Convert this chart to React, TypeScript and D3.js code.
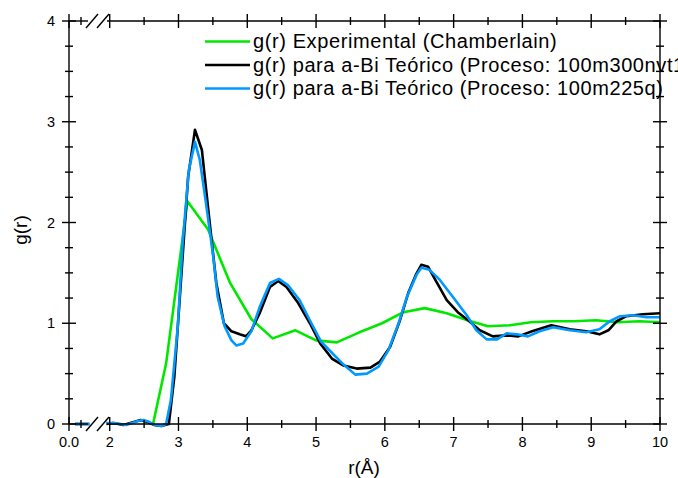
import React from "react";
import * as d3 from "d3";

const W = 678;
const H = 478;

// Green: experimental (Chamberlain)
const expR = [2.63, 2.82, 3.13, 3.43, 3.75, 4.06, 4.37, 4.70, 5.00, 5.30, 5.63, 5.96, 6.27, 6.58, 6.90, 7.20, 7.50, 7.82, 8.12, 8.44, 8.75, 9.07, 9.38, 9.70, 10.0];
const expG = [0.0, 0.6, 2.21, 1.93, 1.40, 1.04, 0.85, 0.93, 0.83, 0.81, 0.91, 1.0, 1.11, 1.15, 1.10, 1.03, 0.97, 0.98, 1.01, 1.02, 1.02, 1.03, 1.01, 1.02, 1.01];

// Black: 100m300nvt1
const nvtR = [1.95, 2.05, 2.2, 2.35, 2.45, 2.55, 2.65, 2.75, 2.86, 2.94, 3.04, 3.14, 3.24, 3.34, 3.45, 3.55, 3.66, 3.77, 3.89, 3.98, 4.06, 4.18, 4.33, 4.45, 4.57, 4.74, 4.91, 5.06, 5.23, 5.40, 5.59, 5.79, 5.93, 6.08, 6.22, 6.34, 6.45, 6.53, 6.63, 6.75, 6.90, 7.06, 7.21, 7.38, 7.57, 7.77, 7.94, 8.14, 8.42, 8.69, 8.93, 9.12, 9.25, 9.37, 9.51, 9.75, 10.0];
const nvtG = [0.0, 0.01, -0.01, 0.02, 0.04, 0.02, -0.01, -0.02, 0.0, 0.47, 1.46, 2.45, 2.92, 2.72, 2.02, 1.40, 1.0, 0.92, 0.89, 0.87, 0.93, 1.10, 1.36, 1.42, 1.36, 1.20, 1.0, 0.80, 0.65, 0.58, 0.55, 0.56, 0.62, 0.77, 1.03, 1.30, 1.48, 1.58, 1.56, 1.41, 1.23, 1.11, 1.03, 0.93, 0.87, 0.88, 0.87, 0.92, 0.98, 0.94, 0.92, 0.89, 0.93, 1.02, 1.07, 1.09, 1.10];

// Blue: 100m225q
const qR = [1.95, 2.07, 2.24, 2.41, 2.49, 2.58, 2.65, 2.75, 2.82, 2.89, 2.99, 3.06, 3.15, 3.24, 3.31, 3.40, 3.50, 3.57, 3.67, 3.77, 3.84, 3.94, 4.06, 4.18, 4.33, 4.46, 4.59, 4.76, 4.91, 5.07, 5.24, 5.40, 5.57, 5.74, 5.91, 6.05, 6.20, 6.32, 6.46, 6.53, 6.65, 6.80, 6.99, 7.19, 7.33, 7.48, 7.63, 7.77, 7.92, 8.08, 8.25, 8.45, 8.69, 8.93, 9.12, 9.27, 9.42, 9.61, 9.80, 10.0];
const qG = [0.01, 0.01, -0.01, 0.03, 0.04, 0.02, -0.01, -0.02, 0.0, 0.24, 0.97, 1.79, 2.52, 2.80, 2.62, 2.19, 1.69, 1.26, 0.97, 0.83, 0.78, 0.80, 0.92, 1.16, 1.40, 1.44, 1.38, 1.23, 1.03, 0.82, 0.70, 0.59, 0.49, 0.50, 0.57, 0.73, 1.0, 1.26, 1.48, 1.55, 1.53, 1.43, 1.26, 1.08, 0.93, 0.84, 0.84, 0.90, 0.89, 0.87, 0.92, 0.96, 0.93, 0.91, 0.94, 1.02, 1.07, 1.08, 1.06, 1.06];

// Left (pre-break) segment values
const leftR = [0.05, 0.17];
const leftG = [0.0, 0.0];

const legendLabels = [
  "g(r) Experimental (Chamberlain)",
  "g(r) para a-Bi Teórico (Proceso: 100m300nvt1",
  "g(r) para a-Bi Teórico (Proceso: 100m225q)",
];
const colors = ["#00e800", "#000000", "#0099ff"];

const yMajor = [0, 1, 2, 3, 4];
const xMajorRight = [2, 3, 4, 5, 6, 7, 8, 9, 10];
const xMinorRight = [2.5, 3.5, 4.5, 5.5, 6.5, 7.5, 8.5, 9.5];

const L = 69, R = 660, T = 21, B = 424;
const FONT = "'Liberation Sans', Arial, sans-serif";

export default function App() {
  const y = d3.scaleLinear().domain([0, 4]).range([B, T]);
  const xLeft = d3.scaleLinear().domain([0, 0.2]).range([L, L + 24]);
  const xRight = d3.scaleLinear().domain([2, 10]).range([109.7, R]);

  const mk = (sx: d3.ScaleLinear<number, number>) =>
    d3.line<[number, number]>().x((d) => sx(d[0])).y((d) => y(d[1])).curve(d3.curveLinear);

  const series = [
    { r: expR, g: expG },
    { r: nvtR, g: nvtG },
    { r: qR, g: qG },
  ];

  const yMinor = d3.range(0, 4.001, 0.25).filter((v) => Math.abs(v - Math.round(v)) > 1e-6);
  const breakX1 = 88, breakX2 = 107;

  const axisStroke = { stroke: "#000", strokeWidth: 1.4 };

  const hAxis = (yy: number, key: string) => (
    <g key={key}>
      <line x1={L} x2={breakX1} y1={yy} y2={yy} {...axisStroke} />
      <line x1={breakX2} x2={R} y1={yy} y2={yy} {...axisStroke} />
      {[0].map((v) => (
        <line key={"lm" + v} x1={xLeft(v)} x2={xLeft(v)} y1={yy - 7} y2={yy + 7} {...axisStroke} />
      ))}
      {[0.1].map((v) => (
        <line key={"ln" + v} x1={xLeft(v)} x2={xLeft(v)} y1={yy - 4} y2={yy + 4} {...axisStroke} />
      ))}
      {xMajorRight.map((v) => (
        <line key={"m" + v} x1={xRight(v)} x2={xRight(v)} y1={yy - 7} y2={yy + 7} {...axisStroke} />
      ))}
      {xMinorRight.map((v) => (
        <line key={"n" + v} x1={xRight(v)} x2={xRight(v)} y1={yy - 4} y2={yy + 4} {...axisStroke} />
      ))}
      <line x1={86} x2={98} y1={yy + 7} y2={yy - 7} {...axisStroke} />
      <line x1={97} x2={109} y1={yy + 7} y2={yy - 7} {...axisStroke} />
    </g>
  );

  const vAxis = (xx: number, key: string) => (
    <g key={key}>
      <line x1={xx} x2={xx} y1={T} y2={B} {...axisStroke} />
      {yMajor.map((v) => (
        <line key={"m" + v} x1={xx - 7} x2={xx + 7} y1={y(v)} y2={y(v)} {...axisStroke} />
      ))}
      {yMinor.map((v) => (
        <line key={"n" + v} x1={xx - 4} x2={xx + 4} y1={y(v)} y2={y(v)} {...axisStroke} />
      ))}
    </g>
  );

  const legendY = [41.5, 65, 88.5];

  return (
    <div style={{ position: "absolute", left: 0, top: 0 }}>
      <svg width={W} height={H} style={{ display: "block", background: "#fff" }} fontFamily={FONT}>
        <rect x={0} y={0} width={W} height={H} fill="#fff" />
        {/* data */}
        {series.map((s, i) => {
          const pts = s.r.map((r, k) => [r, s.g[k]] as [number, number]);
          const leftPts = leftR.map((r, k) => [r, leftG[k]] as [number, number]);
          return (
            <g key={i}>
              <path d={mk(xRight)(pts) || ""} fill="none" stroke={colors[i]} strokeWidth={2.6} strokeLinejoin="round" />
              {i > 0 && (
                <path d={mk(xLeft)(leftPts) || ""} fill="none" stroke={colors[i]} strokeWidth={2.6} />
              )}
            </g>
          );
        })}
        {/* axes */}
        {hAxis(B, "bottom")}
        {hAxis(T, "top")}
        {vAxis(L, "left")}
        {vAxis(R, "right")}
        {/* y labels */}
        {yMajor.map((v) => (
          <text key={v} x={L - 14} y={y(v)} dy="0.36em" textAnchor="end" fontSize={14.5}>
            {v}
          </text>
        ))}
        {/* x labels */}
        <text x={xLeft(0)} y={447} textAnchor="middle" fontSize={14.5}>0.0</text>
        {xMajorRight.map((v) => (
          <text key={v} x={xRight(v)} y={447} textAnchor="middle" fontSize={14.5}>
            {v}
          </text>
        ))}
        <text x={364} y={474} textAnchor="middle" fontSize={19}>r(Å)</text>
        <text transform="translate(27,230) rotate(-90)" textAnchor="middle" fontSize={19}>g(r)</text>
        {/* legend */}
        {legendLabels.map((lab, i) => (
          <g key={i}>
            <line x1={205} x2={250} y1={legendY[i]} y2={legendY[i]} stroke={colors[i]} strokeWidth={2.6} />
            <text x={253} y={legendY[i] + 6.5} fontSize={20} letterSpacing={0.6}>{lab}</text>
          </g>
        ))}
      </svg>
    </div>
  );
}
